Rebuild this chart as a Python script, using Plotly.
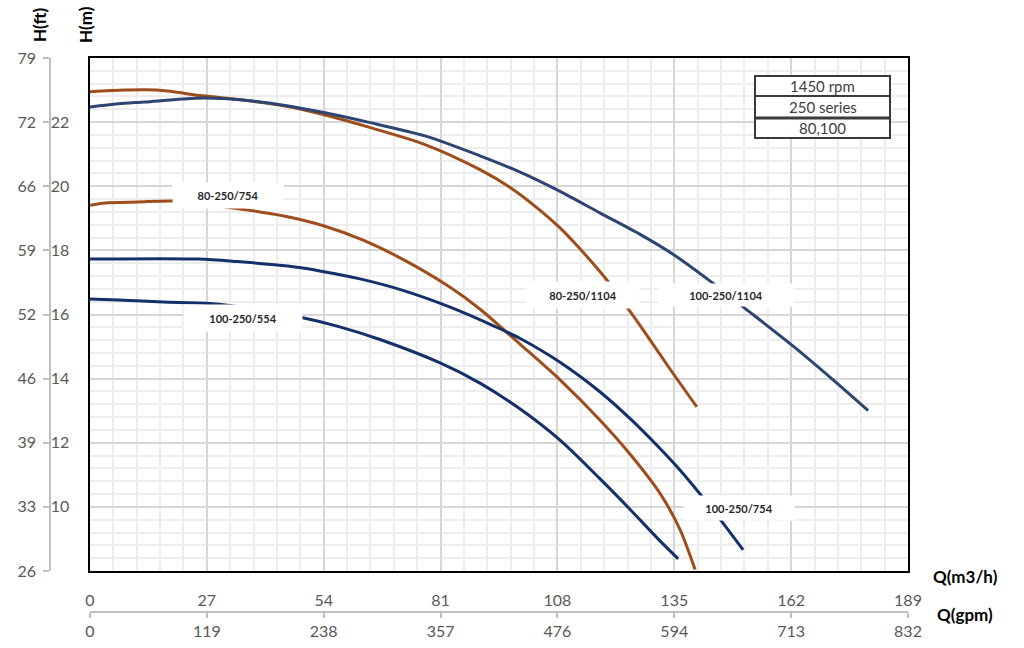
import plotly.graph_objects as go

W, H = 1024, 648

# ---- data (Q in m3/h, H in m) ----
q_80_1104 = [0, 8, 15.5, 26.1, 35.8, 45.1, 54.3, 65.0, 77.4, 90.1, 97.0, 104.0, 108.6, 113.2, 119.7, 124.1, 127.8, 134.0, 140.2]
h_80_1104 = [22.95, 23.0, 23.0, 22.82, 22.68, 22.50, 22.22, 21.82, 21.30, 20.52, 19.97, 19.25, 18.70, 18.05, 17.03, 16.22, 15.52, 14.30, 13.12]

q_100_1104 = [0, 6.5, 12.7, 21.3, 26.6, 35.8, 45.1, 54.3, 64.2, 77.4, 90.1, 99.4, 108.6, 117.8, 127.1, 134.7, 143.3, 150.9, 162.4, 171.7, 179.8]
h_100_1104 = [22.47, 22.57, 22.63, 22.72, 22.75, 22.68, 22.52, 22.29, 22.0, 21.57, 20.95, 20.44, 19.84, 19.17, 18.50, 17.88, 17.04, 16.24, 15.02, 13.96, 13.0]

q_80_754 = [0, 3.5, 11.1, 19.2, 31.4, 44.8, 54.1, 63.1, 72.3, 83.2, 90.0, 99.4, 108.6, 117.8, 124.8, 131.7, 136.3, 139.8]
h_80_754 = [19.41, 19.48, 19.51, 19.54, 19.35, 19.07, 18.76, 18.32, 17.72, 16.85, 16.18, 15.07, 13.96, 12.71, 11.64, 10.42, 9.30, 8.05]

q_100_754 = [0, 25.0, 34.0, 45.7, 53.1, 62.4, 72.1, 83.2, 94.0, 99.4, 108.6, 117.8, 124.8, 131.7, 136.3, 140.9, 145.6, 150.9]
h_100_754 = [17.73, 17.73, 17.65, 17.51, 17.36, 17.11, 16.76, 16.23, 15.60, 15.25, 14.51, 13.59, 12.75, 11.82, 11.15, 10.41, 9.61, 8.66]

q_100_554 = [0, 6.5, 16.9, 27.7, 38.0, 48.1, 57.3, 67.0, 80.9, 90.1, 99.4, 108.6, 117.8, 124.8, 131.7, 135.9]
h_100_554 = [16.48, 16.45, 16.39, 16.34, 16.17, 15.93, 15.63, 15.22, 14.49, 13.86, 13.05, 12.08, 10.88, 9.92, 8.94, 8.38]

q_ticks = [0, 27, 54, 81, 108, 135, 162, 189]
gpm_labels = ["0", "119", "238", "357", "476", "594", "713", "832"]
h_ticks = [8, 10, 12, 14, 16, 18, 20, 22, 24]
ft_labels = ["26", "33", "39", "46", "52", "59", "66", "72", "79"]

table_rows = ["1450 rpm", "250 series", "80,100"]

BROWN = "#9E4E1C"
NAVY = "#14306A"
SLATE = "#2C4572"

fig = go.Figure()
series = [
    (q_80_1104, h_80_1104, BROWN),
    (q_100_1104, h_100_1104, SLATE),
    (q_80_754, h_80_754, BROWN),
    (q_100_754, h_100_754, NAVY),
    (q_100_554, h_100_554, NAVY),
]
for q, h, c in series:
    fig.add_trace(go.Scatter(x=q, y=h, mode="lines", line=dict(color=c, width=3, shape="spline", smoothing=0.8),
                             showlegend=False, hoverinfo="skip"))

# invisible traces to activate secondary axes
fig.add_trace(go.Scatter(x=[0], y=[8], xaxis="x2", yaxis="y", mode="markers", marker=dict(opacity=0), showlegend=False, hoverinfo="skip"))
fig.add_trace(go.Scatter(x=[0], y=[8], xaxis="x", yaxis="y2", mode="markers", marker=dict(opacity=0), showlegend=False, hoverinfo="skip"))
fig.add_trace(go.Scatter(x=[0], y=[8], xaxis="x", yaxis="y3", mode="markers", marker=dict(opacity=0), showlegend=False, hoverinfo="skip"))

x0p, x1p = 90 / W, 908 / W
y0p, y1p = 1 - 571 / H, 1 - 58 / H

tickfont = dict(family="Lato, Open Sans, sans-serif", size=16, color="#595959")

fig.update_layout(
    width=W, height=H,
    margin=dict(l=0, r=0, t=0, b=0),
    paper_bgcolor="white", plot_bgcolor="white",
    xaxis=dict(domain=[x0p, x1p], range=[0, 189], tickvals=q_ticks, showgrid=True,
               gridcolor="#D6D6D6", gridwidth=2,
               minor=dict(dtick=5.4, tick0=0, showgrid=True, gridcolor="#EDEDED", gridwidth=1.5),
               showline=True, linecolor="black", linewidth=2, mirror=True, ticks="",
               ticklabelstandoff=14, tickfont=tickfont, zeroline=False, automargin=False, fixedrange=True),
    xaxis2=dict(overlaying="x", anchor="free", position=1 - 612 / H, side="bottom", range=[0, 189],
                tickvals=q_ticks, ticktext=gpm_labels, showgrid=False, showline=True,
                linecolor="#BFBFBF", linewidth=2, ticks="outside", ticklen=5, tickcolor="#BFBFBF", tickwidth=2,
                tickfont=tickfont, zeroline=False, automargin=False),
    yaxis=dict(domain=[y0p, y1p], range=[8, 24], tickvals=h_ticks, showticklabels=False,
               showgrid=True, gridcolor="#D6D6D6", gridwidth=2,
               minor=dict(dtick=0.4, tick0=8, showgrid=True, gridcolor="#EDEDED", gridwidth=1.5),
               showline=True, linecolor="black", linewidth=2, mirror=True, ticks="",
               zeroline=False, automargin=False),
    yaxis2=dict(overlaying="y", anchor="free", position=50 / W, side="left", range=[8, 24],
                tickvals=h_ticks, showgrid=False, showline=True, linecolor="#BFBFBF", linewidth=2,
                ticks="outside", ticklen=6, tickcolor="#BFBFBF", tickwidth=2,
                ticklabelposition="inside", tickfont=tickfont, zeroline=False, automargin=False),
    yaxis3=dict(overlaying="y", anchor="free", position=36 / W, side="left", range=[8, 24],
                tickvals=h_ticks, ticktext=ft_labels, showgrid=False, showline=False, ticks="",
                tickfont=tickfont, zeroline=False, automargin=False),
)

titlefont = dict(family="Lato, Open Sans, sans-serif", size=17, color="black")
anns = [
    dict(text="<b>H(ft)</b>", x=40 / W, y=1 - 25 / H, textangle=-90),
    dict(text="<b>H(m)</b>", x=86 / W, y=1 - 25 / H, textangle=-90),
    dict(text="<b>Q(m3/h)</b>", x=965 / W, y=1 - 576 / H, textangle=0),
    dict(text="<b>Q(gpm)</b>", x=965 / W, y=1 - 614 / H, textangle=0),
]
for a in anns:
    fig.add_annotation(xref="paper", yref="paper", showarrow=False, font=titlefont,
                       xanchor="center", yanchor="middle", **a)

labfont = dict(family="Lato, Open Sans, sans-serif", size=11, color="#262626")
curve_labels = [
    ("80-250/754", 31.9, 19.70, 108, 23),
    ("100-250/554", 35.4, 15.89, 116, 24),
    ("80-250/1104", 113.9, 16.61, 110, 24),
    ("100-250/1104", 147.0, 16.61, 132, 20),
    ("100-250/754", 150.0, 9.96, 108, 22),
]
for t, x, y, w, hh in curve_labels:
    fig.add_annotation(x=x, y=y, xref="x", yref="y", text="<b>" + t + "</b>", showarrow=False,
                       bgcolor="white", width=w, height=hh, font=labfont, align="center", valign="middle")

# info table
tx0, tx1 = 755, 890
row_edges = [76, 96, 118, 138]
fig.add_shape(type="rect", xref="paper", yref="paper", x0=tx0 / W, x1=tx1 / W,
              y0=1 - row_edges[-1] / H, y1=1 - row_edges[0] / H,
              line=dict(color="#3A3A3A", width=2), fillcolor="white", layer="above")
for i, e in enumerate(row_edges[1:-1]):
    fig.add_shape(type="line", xref="paper", yref="paper", x0=tx0 / W, x1=tx1 / W,
                  y0=1 - e / H, y1=1 - e / H, line=dict(color="#3A3A3A", width=2 if i == 0 else 3), layer="above")
for i, t in enumerate(table_rows):
    yc = (row_edges[i] + row_edges[i + 1]) / 2
    fig.add_annotation(xref="paper", yref="paper", x=(tx0 + tx1) / 2 / W, y=1 - yc / H, text=t,
                       showarrow=False, font=dict(family="Lato, Open Sans, sans-serif", size=15, color="#404040"),
                       xanchor="center", yanchor="middle")

fig.write_html("out.html")
